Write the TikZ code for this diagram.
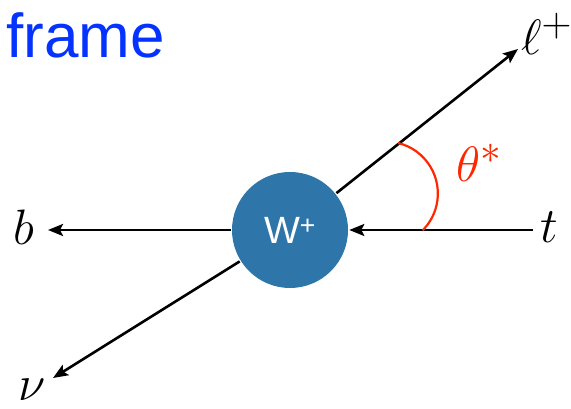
\documentclass[tikz,border=0pt]{standalone}
\usepackage{graphicx}
\usepackage{fontspec}
\newfontfamily\helv{Liberation Sans}
\usetikzlibrary{arrows.meta}
\definecolor{frameblue}{RGB}{4,51,255}
\definecolor{wblue}{RGB}{46,117,170}
\definecolor{arcred}{RGB}{255,38,0}
\newcommand{\biglbl}[1]{\scalebox{2.0}{\Huge #1}}
\begin{document}
\begin{tikzpicture}[x=1pt,y=1pt,
  line width=2.6pt,
  arr/.style={-{Stealth[length=15pt,width=12pt,inset=3pt]}},
  lbl/.style={inner sep=0pt}]
\useasboundingbox (0,0) rectangle (571,409);
\node[circle, fill=wblue, minimum size=116pt, inner sep=0pt, text=white,
      font=\helv\fontsize{38}{42}\selectfont] (W) at (290,179) {W\textsuperscript{+}};
\coordinate (btip) at (48,179);
\coordinate (tstart) at (533,179);
\coordinate (ltip) at (518,360);
\coordinate (nutip) at (53,31);
\draw[arr] (W) -- (btip);
\draw[arr] (tstart) -- (W);
\draw[arr] (W) -- (ltip);
\draw[arr] (W) -- (nutip);
\coordinate (arcA) at (398,266);
\draw[arcred, line width=2.2pt] (arcA) arc[start angle=76.5, end angle=-45, radius=52];
\node[lbl, anchor=base] (b) at (24,164) {\biglbl{$b$}};
\node[lbl, anchor=base] (t) at (549,166) {\biglbl{$t$}};
\node[lbl, anchor=base] (nu) at (32,8) {\biglbl{$\nu$}};
\node[lbl, anchor=base west] (l) at (520,354) {\biglbl{$\ell^+$}};
\node[lbl, anchor=base west, text=arcred] (th) at (455,227) {\biglbl{$\theta^*$}};
\node[anchor=base west, inner sep=0pt, text=frameblue,
      font=\helv\fontsize{62}{64}\selectfont] (frame) at (5,351) {frame};
\end{tikzpicture}
\end{document}
